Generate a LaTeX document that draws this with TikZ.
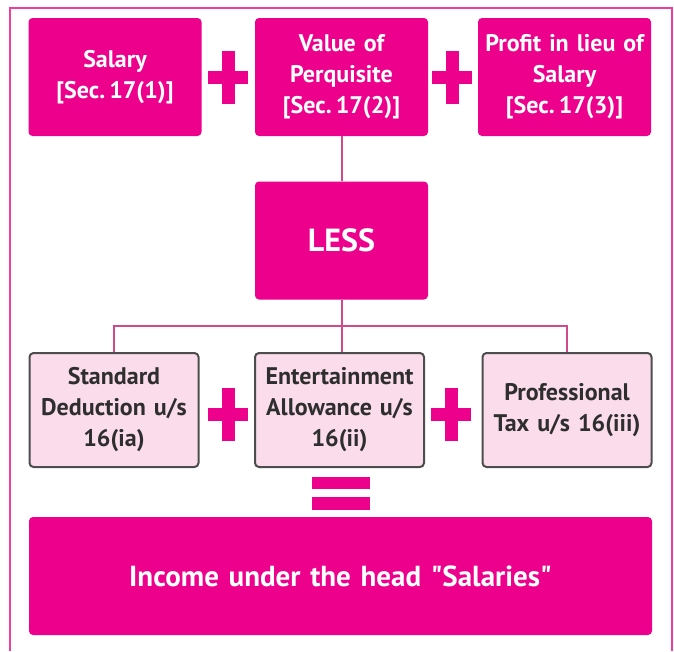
\documentclass[tikz,border=0pt]{standalone}
\usepackage{fontspec}
\setmainfont[Ligatures=TeXOff]{PT Sans}
\usepackage{tikz}
\usetikzlibrary{calc}
\definecolor{magenta}{HTML}{EC008C}
\definecolor{lightpink}{HTML}{FADCEA}
\definecolor{linkpink}{HTML}{CF4A8A}
\definecolor{framepink}{HTML}{EC3FA0}
\definecolor{darktext}{HTML}{2E2E2E}
\tikzstyle{topbox} = [rectangle, rounded corners=4pt,
minimum width=173pt, minimum height=118pt, inner xsep=1pt,
text centered, text width=166pt,
fill=magenta, text=white,
font=\bfseries\fontsize{24}{31}\selectfont]
\tikzstyle{lessbox} = [topbox, font=\bfseries\fontsize{32}{40}\selectfont]
\tikzstyle{deductbox} = [rectangle, rounded corners=4pt,
minimum width=169pt, minimum height=114pt, inner xsep=1pt,
text centered, text width=164pt,
draw=darktext!85, line width=2pt, fill=lightpink, text=darktext,
font=\bfseries\fontsize{24}{31}\selectfont]
\tikzstyle{resultbox} = [topbox, minimum width=623pt, text width=600pt,
font=\bfseries\fontsize{29}{34}\selectfont]
\tikzstyle{link} = [linkpink, line width=2pt]
\tikzset{plusmark/.pic={
  \fill[magenta] (-20,-6.5) rectangle (20,6.5);
  \fill[magenta] (-6.5,-26.5) rectangle (6.5,26.5);
}}
\begin{document}
\begin{tikzpicture}[x=1pt, y=-1pt]
    \useasboundingbox (0,0) rectangle (674,651);
    \draw [framepink, line width=2pt] (9.5,651) |- (672,8) -- (672,651);

    % Top row
    \node (sal) [topbox] at (115,77) {Salary\\{[Sec.\,17(1)]}};
    \node (val) [topbox] at (341.5,77) {Value of\\Perquisite\\{[Sec.\,17(2)]}};
    \node (prof) [topbox] at (564.5,77) {Profit in lieu of\\Salary\\{[Sec.\,17(3)]}};
    \pic at (228,77) {plusmark};
    \pic at (452,77) {plusmark};

    \node (less) [lessbox] at (341.5,240.5) {LESS};

    % Deductions
    \node (std) [deductbox] at (114,410) {Standard\\Deduction u/s\\16(ia)};
    \node (ent) [deductbox] at (339.5,410) {Entertainment\\Allowance u/s\\16(ii)};
    \node (ptax) [deductbox] at (567,410) {Professional\\Tax u/s 16(iii)};
    \pic at (228,414) {plusmark};
    \pic at (451,414) {plusmark};

    % Equals
    \fill [magenta] (312,477) rectangle (370,489);
    \fill [magenta] (312,497) rectangle (370,510);

    \node (inc) [resultbox] at (340.5,576) {Income under the head "Salaries"};

    % Links
    \draw [link] (val.south) -- (less.north);
    \draw [link] (less.south) -- (less.south |- ent.north);
    \draw [link] (std.north) |- ($(less.south)!0.5!(ent.north)$) -| (ptax.north);
\end{tikzpicture}
\end{document}
